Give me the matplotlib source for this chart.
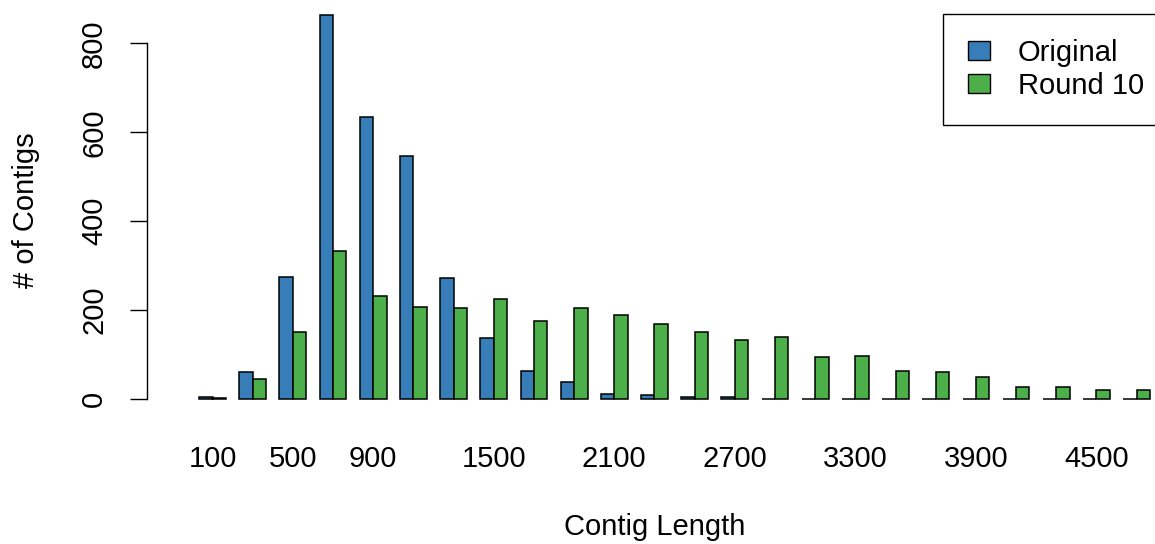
import numpy as np
import matplotlib.pyplot as plt
from matplotlib.patches import Patch

# === data ===
lengths = [100, 300, 500, 700, 900, 1100, 1300, 1500, 1700, 1900, 2100, 2300,
           2500, 2700, 2900, 3100, 3300, 3500, 3700, 3900, 4100, 4300, 4500, 4700]
original = [4, 61, 275, 865, 634, 547, 273, 137, 62, 38, 11, 9,
            5, 4, 1, 1, 1, 0, 0, 0, 0, 0, 0, 0]
round10 = [3, 44, 150, 333, 231, 208, 205, 224, 176, 205, 190, 168,
           151, 133, 140, 94, 97, 63, 61, 50, 26, 28, 20, 21]
# R drops tick labels that would overlap
shown_labels = [100, 500, 900, 1500, 2100, 2700, 3300, 3900, 4500]
yticks = [0, 200, 400, 600, 800]

blue = '#377EB8'
green = '#4DAF4A'
fs = 21

plt.rcParams['font.family'] = ['Liberation Sans', 'DejaVu Sans']

W, H = 1155, 544
fig = plt.figure(figsize=(W / 100, H / 100), dpi=100)

# plot region in pixels (runs past the right edge like the source)
left_px, right_px, top_px, bot_px = 147, 1190, 0, 418.4
ax = fig.add_axes([left_px / W, 1 - bot_px / H,
                   (right_px - left_px) / W, (bot_px - top_px) / H])

# barplot(beside=TRUE): groups of 3 units (1 gap + 2 bars)
n = len(lengths)
idx = np.arange(n)
ax.bar(3 * idx + 1.5, original, width=1, color=blue, edgecolor='black', linewidth=1.1)
ax.bar(3 * idx + 2.5, round10, width=1, color=green, edgecolor='black', linewidth=1.1)

px_per_unit = 40.18 / 3
x0 = 2 - (212.5 - left_px) / px_per_unit
ax.set_xlim(x0, x0 + (right_px - left_px) / px_per_unit)
py_per_unit = 0.4445
ax.set_ylim(-(bot_px - 399) / py_per_unit, (399 - top_px) / py_per_unit)

ax.set_xticks(3 * idx + 2)
ax.set_xticklabels([str(v) if v in shown_labels else '' for v in lengths], fontsize=fs)
ax.tick_params(axis='x', length=0, pad=19)

ax.set_yticks(yticks)
ax.set_yticklabels([str(v) for v in yticks], fontsize=fs, rotation=90, va='center')
ax.tick_params(axis='y', length=12, width=1, pad=16)

for s in ['top', 'right', 'bottom']:
    ax.spines[s].set_visible(False)
ax.spines['left'].set_bounds(0, 800)
ax.spines['left'].set_linewidth(1)

fig.text(26 / W, 1 - 210 / H, '# of Contigs', rotation=90, fontsize=fs,
         ha='center', va='center')
fig.text(655 / W, 1 - 527 / H, 'Contig Length', fontsize=fs,
         ha='center', va='center')

handles = [Patch(facecolor=blue, edgecolor='black', linewidth=1),
           Patch(facecolor=green, edgecolor='black', linewidth=1)]
leg = fig.legend(handles, ['Original', 'Round 10'], loc='upper left',
                 bbox_to_anchor=(943 / W, 1 - 14 / H), bbox_transform=fig.transFigure,
                 fontsize=fs, fancybox=False, framealpha=1, edgecolor='black',
                 borderpad=0.85, handlelength=0.77, handleheight=0.6,
                 handletextpad=0.95, labelspacing=0.17, borderaxespad=0)
leg.get_frame().set_linewidth(1)

fig.savefig('out.png', dpi=100)
